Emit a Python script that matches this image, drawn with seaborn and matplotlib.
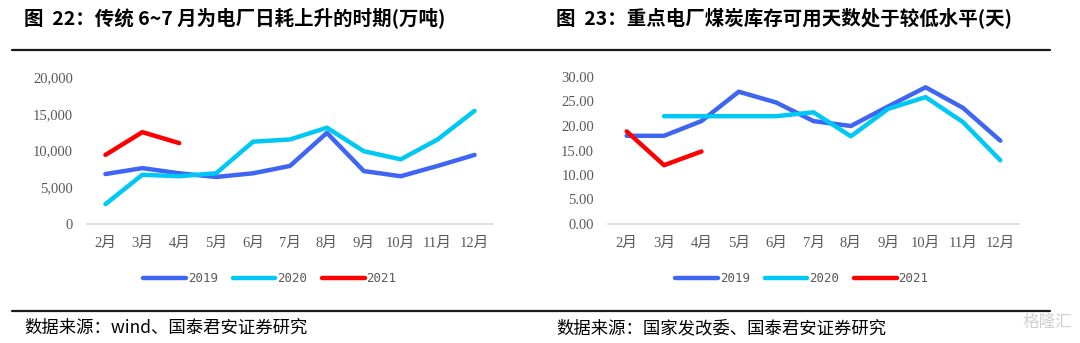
import numpy as np
import pandas as pd
import matplotlib
matplotlib.use("Agg")
import matplotlib.pyplot as plt
from matplotlib.lines import Line2D
import seaborn as sns

months = ["2月", "3月", "4月", "5月", "6月", "7月", "8月", "9月", "10月", "11月", "12月"]
years = ["2019", "2020", "2021"]

# Left: daily coal consumption (万吨)
left_2019 = [6800, 7600, 6900, 6400, 6900, 7900, 12400, 7200, 6500, 7900, 9400]
left_2020 = [2700, 6700, 6500, 6900, 11200, 11500, 13100, 9900, 8800, 11500, 15400]
left_2021 = [9400, 12500, 11000, None, None, None, None, None, None, None, None]

# Right: days of coal stock (天)
right_2019 = [18.0, 18.0, 21.0, 27.0, 24.8, 21.0, 20.0, 24.0, 27.9, 23.7, 17.0]
right_2020 = [None, 22.0, 22.0, 22.0, 22.0, 22.8, 17.9, 23.5, 25.9, 20.8, 13.0]
right_2021 = [18.9, 12.0, 14.8, None, None, None, None, None, None, None, None]

left_title = "图  22：传统 6~7 月为电厂日耗上升的时期(万吨)"
right_title = "图  23：重点电厂煤炭库存可用天数处于较低水平(天)"
left_source = "数据来源：wind、国泰君安证券研究"
right_source = "数据来源：国家发改委、国泰君安证券研究"

palette = {"2019": "#3F66F2", "2020": "#00C8F4", "2021": "#FF0000"}


def to_long(series_list):
    rows = []
    for yr, vals in zip(years, series_list):
        for i, v in enumerate(vals):
            if v is not None:
                rows.append({"pos": i, "value": v, "year": yr})
    return pd.DataFrame(rows)


df_left = to_long([left_2019, left_2020, left_2021])
df_right = to_long([right_2019, right_2020, right_2021])

sns.set_theme(style="white")
plt.rcParams["font.family"] = ["Liberation Serif", "Noto Sans CJK SC", "DejaVu Sans"]

W, H = 1080, 343
fig = plt.figure(figsize=(W / 100, H / 100), dpi=100)
fig.patch.set_facecolor("white")


def px_axes(x0, y_top, x1, y_bot):
    return fig.add_axes([x0 / W, 1 - y_bot / H, (x1 - x0) / W, (y_bot - y_top) / H])


ax_l = px_axes(87, 77, 493, 224)
ax_r = px_axes(608, 77, 1019, 224)

tick_color = "#595959"


def style_axis(ax, df, ymax, step, fmt):
    sns.lineplot(data=df, x="pos", y="value", hue="year", palette=palette,
                 hue_order=years, linewidth=3.2, ax=ax, legend=False,
                 solid_capstyle="round", sort=True)
    ax.set_xlim(-0.5, len(months) - 0.5)
    ax.set_ylim(0, ymax)
    ax.set_xlabel("")
    ax.set_ylabel("")
    ax.set_xticks(range(len(months)))
    ax.set_xticklabels(months)
    ax.set_xticks(np.arange(-0.5, len(months), 1.0), minor=True)
    ax.tick_params(axis="x", which="major", length=0, pad=9, labelsize=10.5,
                   colors=tick_color)
    ax.tick_params(axis="x", which="minor", length=5, width=1, color="#D9D9D9",
                   direction="out")
    yt = np.arange(0, ymax + step / 2, step)
    ax.set_yticks(yt)
    ax.set_yticklabels([fmt(v) for v in yt])
    ax.tick_params(axis="y", length=0, pad=10, labelsize=10.5, colors=tick_color)
    for s in ["top", "right", "left"]:
        ax.spines[s].set_visible(False)
    ax.spines["bottom"].set_color("#D9D9D9")
    ax.spines["bottom"].set_linewidth(1.2)
    ax.grid(False)
    ax.patch.set_alpha(0)


style_axis(ax_l, df_left, 20000, 5000, lambda v: f"{int(v):,}")
style_axis(ax_r, df_right, 30, 5, lambda v: f"{v:.2f}")

# Legends
handles = [Line2D([0], [0], color=palette[y], lw=3.2, solid_capstyle="round") for y in years]
for cx in (270 / W, 802 / W):
    fig.legend(handles, years, loc="center", bbox_to_anchor=(cx, 1 - 279 / H),
               ncol=3, frameon=False, handlelength=3.4, handletextpad=0.15,
               columnspacing=1.2, prop={"family": ["DejaVu Sans Mono"], "size": 9},
               labelcolor=tick_color)

# Titles
title_font = ["Noto Sans CJK SC", "DejaVu Sans"]
fig.text(24 / W, 1 - 18 / H, left_title, ha="left", va="center", fontsize=14,
         fontweight="bold", family=title_font, color="black")
fig.text(556 / W, 1 - 18 / H, right_title, ha="left", va="center", fontsize=14,
         fontweight="bold", family=title_font, color="black")

# Rules
for y in (50, 311):
    fig.add_artist(Line2D([12 / W, 1050 / W], [1 - y / H, 1 - y / H],
                          transform=fig.transFigure, color="#1a1a1a", lw=1.6))

# Sources
src_font = ["Noto Sans CJK SC", "DejaVu Sans"]
fig.text(24 / W, 1 - 328 / H, left_source, ha="left", va="center", fontsize=12.5,
         family=src_font, color="black")
fig.text(556 / W, 1 - 328 / H, right_source, ha="left", va="center", fontsize=12.5,
         family=src_font, color="black")

# watermark
fig.text(1072 / W, 1 - 322 / H, "格隆汇", ha="right", va="center", fontsize=12,
         family=["Noto Sans CJK SC"], color="#D0D0D0")

fig.savefig("out.png", dpi=100, facecolor="white")
